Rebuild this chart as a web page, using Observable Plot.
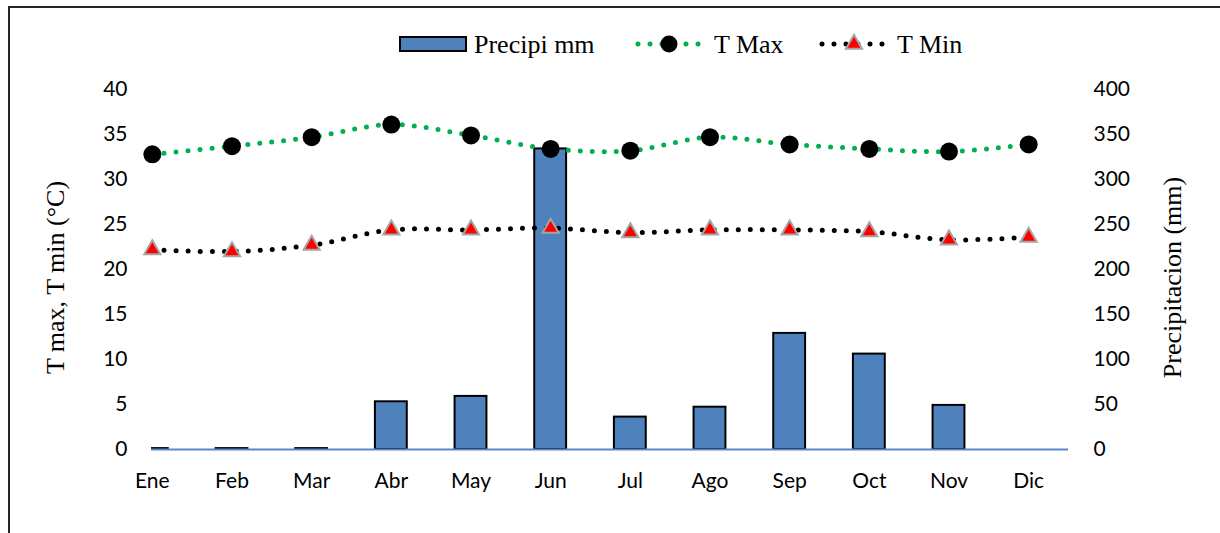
<!DOCTYPE html>
<html>
<head>
<meta charset="utf-8">
<script src="https://cdn.jsdelivr.net/npm/d3@7"></script>
<script src="https://cdn.jsdelivr.net/npm/@observablehq/plot@0.6"></script>
<style>
  html, body { margin: 0; padding: 0; background: #fff; }
  #wrap { position: relative; width: 1220px; height: 533px; overflow: hidden; }
  #frame { position: absolute; left: 8px; top: 6px; width: 1300px; height: 600px;
           border-left: 2px solid #262626; border-top: 2px solid #262626; }
  #chart, #legend { position: absolute; left: 0; top: 0; }
</style>
</head>
<body>
<div id="wrap">
  <div id="frame"></div>
  <div id="chart"></div>
  <svg id="legend" width="1220" height="80"></svg>
</div>
<script>
const months = ["Ene","Feb","Mar","Abr","May","Jun","Jul","Ago","Sep","Oct","Nov","Dic"];
const tMax   = [32.8, 33.7, 34.7, 36.1, 34.9, 33.4, 33.2, 34.7, 33.9, 33.4, 33.1, 33.9];
const tMin   = [22.2, 22.0, 22.7, 24.4, 24.4, 24.6, 24.1, 24.4, 24.4, 24.2, 23.3, 23.6];
const precip = [1, 1, 1, 53, 59, 334, 36, 47, 129, 106, 49, 0];
const leftTicks  = [0, 5, 10, 15, 20, 25, 30, 35, 40];
const rightTicks = [0, 50, 100, 150, 200, 250, 300, 350, 400];
const precipFactor = 10; // right axis (mm) = left axis (°C) * 10

const data = months.map((m, i) => ({month: m, tmax: tMax[i], tmin: tMin[i], precip: precip[i] / precipFactor}));

const sans = "Lato, 'Open Sans', sans-serif";
const serif = "'Liberation Serif', 'Times New Roman', serif";

const chart = Plot.plot({
  width: 1220,
  height: 533,
  marginTop: 89,
  marginBottom: 84,
  marginLeft: 151,
  marginRight: 152,
  style: {fontFamily: sans, fontSize: "21px", color: "#000", background: "transparent", overflow: "visible"},
  x: {domain: months, range: [112, 1068], paddingInner: 0.6, paddingOuter: 0.3, round: false},
  y: {domain: [0, 40]},
  marks: [
    Plot.barY(data, {x: "month", y: "precip", fill: "#4f81bd", stroke: "#000", strokeWidth: 2, clip: true}),
    Plot.ruleY([0], {stroke: "#5b87c9", strokeWidth: 2}),
    Plot.line(data, {x: "month", y: "tmax", stroke: "#00b050", strokeWidth: 5, strokeDasharray: "0 12", strokeLinecap: "round", curve: "catmull-rom"}),
    Plot.line(data, {x: "month", y: "tmin", stroke: "#000", strokeWidth: 5, strokeDasharray: "0 12", strokeLinecap: "round", curve: "catmull-rom"}),
    Plot.dot(data, {x: "month", y: "tmax", r: 9, fill: "#000", stroke: "none"}),
    Plot.dot(data, {x: "month", y: "tmin", symbol: "triangle", r: 6, fill: "#ff0000", stroke: "#a5a5a5", strokeWidth: 2}),
    Plot.axisX({tickSize: 0, tickPadding: 24, label: null}),
    Plot.axisY({anchor: "left", ticks: leftTicks, tickSize: 0, tickPadding: 24, label: null}),
    Plot.axisY({anchor: "right", ticks: rightTicks.map(v => v / precipFactor), tickFormat: d => String(d * precipFactor), tickSize: 0, tickPadding: 25, label: null}),
    Plot.text(["T max, T min (°C)"], {frameAnchor: "left", textAnchor: "middle", lineAnchor: "middle", text: d => d, rotate: -90, dx: -96, dy: 8, fontFamily: serif, fontSize: 26, fill: "#000"}),
    Plot.text(["Precipitacion (mm)"], {frameAnchor: "right", textAnchor: "middle", lineAnchor: "middle", text: d => d, rotate: -90, dx: 104, dy: 8, fontFamily: serif, fontSize: 26, fill: "#000"})
  ]
});
document.getElementById("chart").appendChild(chart);

// Legend
const lg = d3.select("#legend");
const ly = 44;
lg.append("rect").attr("x", 400).attr("y", 37).attr("width", 66).attr("height", 14)
  .attr("fill", "#4f81bd").attr("stroke", "#000").attr("stroke-width", 2);
lg.append("text").attr("x", 474).attr("y", ly + 9).text("Precipi mm")
  .attr("font-family", serif).attr("font-size", 26).attr("fill", "#000");

lg.append("line").attr("x1", 638).attr("x2", 700).attr("y1", ly).attr("y2", ly)
  .attr("stroke", "#00b050").attr("stroke-width", 5).attr("stroke-dasharray", "0 12").attr("stroke-linecap", "round");
lg.append("circle").attr("cx", 669).attr("cy", ly).attr("r", 8.5).attr("fill", "#000");
lg.append("text").attr("x", 714).attr("y", ly + 9).text("T Max")
  .attr("font-family", serif).attr("font-size", 26).attr("fill", "#000");

lg.append("line").attr("x1", 822).attr("x2", 886).attr("y1", ly).attr("y2", ly)
  .attr("stroke", "#000").attr("stroke-width", 5).attr("stroke-dasharray", "0 12").attr("stroke-linecap", "round");
lg.append("path").attr("d", d3.symbol(d3.symbolTriangle, 113)())
  .attr("transform", `translate(854,${ly})`)
  .attr("fill", "#ff0000").attr("stroke", "#a5a5a5").attr("stroke-width", 2);
lg.append("text").attr("x", 897).attr("y", ly + 9).text("T Min")
  .attr("font-family", serif).attr("font-size", 26).attr("fill", "#000");
</script>
</body>
</html>
